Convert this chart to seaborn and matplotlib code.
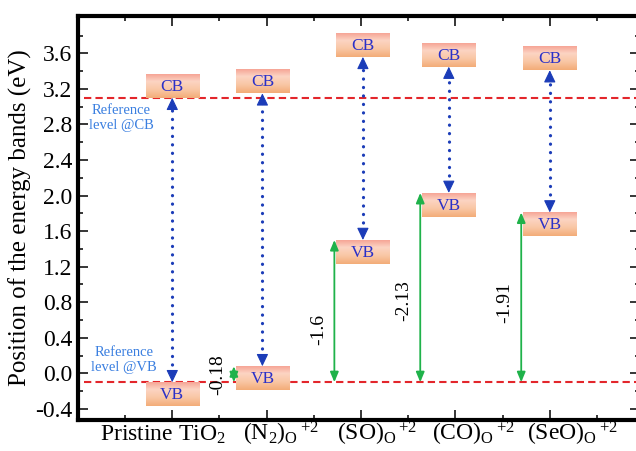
import numpy as np
import pandas as pd
import matplotlib
matplotlib.use("Agg")
import matplotlib.pyplot as plt
from matplotlib.colors import LinearSegmentedColormap
from matplotlib.ticker import FixedLocator
import seaborn as sns

# ---- data -------------------------------------------------------------
systems = ["Pristine TiO$_2$",
           "(N$_2$)$_\\mathrm{O}\\,{}^{+2}$",
           "(SO)$_\\mathrm{O}\\,{}^{+2}$",
           "(CO)$_\\mathrm{O}\\,{}^{+2}$",
           "(SeO)$_\\mathrm{O}\\,{}^{+2}$"]
cb_level = [3.10, 3.15, 3.56, 3.45, 3.41]          # conduction band edge (eV)
vb_shift = [0.0, -0.18, -1.6, -2.13, -1.91]         # VB shift w.r.t. pristine (eV)
ref_vb = -0.10                                      # pristine VB reference level
ref_cb = 3.10                                       # pristine CB reference level
y_ticks = [-0.4, 0.0, 0.4, 0.8, 1.2, 1.6, 2.0, 2.4, 2.8, 3.2, 3.6]

vb_level = [ref_vb - s for s in vb_shift]
df = pd.DataFrame({"system": systems, "pos": np.arange(1, len(systems) + 1),
                   "cb": cb_level, "vb": vb_level, "shift": vb_shift})

# ---- style ------------------------------------------------------------
sns.set_theme(style="ticks")
plt.rcParams["font.family"] = ["Liberation Serif", "DejaVu Serif"]
plt.rcParams["mathtext.fontset"] = "custom"
plt.rcParams["mathtext.rm"] = "Liberation Serif"
plt.rcParams["mathtext.it"] = "Liberation Serif:italic"
plt.rcParams["mathtext.bf"] = "Liberation Serif:bold"
plt.rcParams["axes.unicode_minus"] = False

fig = plt.figure(figsize=(6.36, 4.51), dpi=100)
ax = fig.add_axes([77.9 / 636, 31 / 451, 562 / 636, 404 / 451])
xmax = 5.955
ax.set_xlim(0, xmax)
ax.set_ylim(-0.525, 4.02)

# ---- reference levels -------------------------------------------------
red = "#e3262b"
for lvl in (ref_cb, ref_vb):
    sns.lineplot(x=[0.06, xmax], y=[lvl, lvl], ax=ax, color=red, lw=1.5,
                 dashes=False, zorder=2, legend=False)
for ln in ax.lines:
    ln.set_linestyle((0, (3.5, 2.0)))

# ---- band boxes -------------------------------------------------------
box_cmap = LinearSegmentedColormap.from_list(
    "band", [(0.0, "#f6a596"), (0.3, "#fcd4c3"), (0.65, "#f9c7a5"), (1.0, "#f3ac78")])
grad = np.linspace(0, 1, 64).reshape(-1, 1)
box_w, box_h = 0.565, 0.27
nudge = [0.0, -0.045, 0.02, -0.07, 0.0]
band_txt = "#2a30c8"
blue = "#1b3cb8"
green = "#1fb24a"
head = 0.115          # arrow head length in eV units

def head_at(x, y_tip, direction):
    """Solid triangular head whose tip sits at (x, y_tip)."""
    ax.annotate("", xy=(x, y_tip), xytext=(x, y_tip - direction * head),
                arrowprops=dict(arrowstyle="-|>,head_length=0.75,head_width=0.36",
                                color=blue, lw=0.8, shrinkA=0, shrinkB=0,
                                mutation_scale=10),
                zorder=5)

for i, row in df.iterrows():
    xc = row["pos"] + nudge[i]
    # CB box sits on top of the CB edge, VB box hangs below the VB edge
    for y0, y1, lab in ((row["cb"], row["cb"] + box_h, "CB"),
                        (row["vb"] - box_h, row["vb"], "VB")):
        ax.imshow(grad, extent=[xc - box_w / 2, xc + box_w / 2, y0, y1],
                  origin="upper", aspect="auto", cmap=box_cmap, zorder=3,
                  interpolation="bilinear")
        ax.text(xc, (y0 + y1) / 2 - 0.01, lab, ha="center", va="center",
                color=band_txt, fontsize=12.5, zorder=4)
    # band gap: dotted shaft with solid heads at both edges
    ax.plot([xc, xc], [row["vb"] + head * 0.9, row["cb"] - head * 0.9],
            color=blue, lw=2.3, linestyle=(0, (0.05, 2.6)),
            dash_capstyle="round", solid_capstyle="round", zorder=5)
    head_at(xc, row["cb"], +1)
    head_at(xc, row["vb"], -1)

# ---- VB shift arrows --------------------------------------------------
shift_label_y = [None, -0.02, 0.49, 0.82, 0.80]
for i, row in df.iterrows():
    if row["shift"] == 0:
        continue
    xa = row["pos"] + nudge[i] - box_w / 2 - 0.02
    ax.annotate("", xy=(xa, row["vb"]), xytext=(xa, ref_vb),
                arrowprops=dict(arrowstyle="<|-|>,head_length=0.6,head_width=0.25",
                                color=green, lw=1.3, shrinkA=0, shrinkB=0,
                                mutation_scale=10),
                zorder=6)
    ax.text(xa - 0.17, shift_label_y[i], f"{row['shift']:g}", rotation=90,
            ha="center", va="center", fontsize=14, color="black", zorder=6)

# ---- reference annotations --------------------------------------------
ref_blue = "#3a7fe0"
ax.text(0.457, 2.87, "Reference\nlevel @CB", ha="center", va="center",
        multialignment="center", color=ref_blue, fontsize=10.5, linespacing=1.15)
ax.text(0.49, 0.15, "Reference\nlevel @VB", ha="center", va="center",
        multialignment="center", color=ref_blue, fontsize=10.5, linespacing=1.15)

# ---- axes -------------------------------------------------------------
ax.set_xticks(df["pos"])
ax.set_xticklabels([])
ax.xaxis.set_minor_locator(FixedLocator(np.arange(0.5, xmax, 1.0)))
ax.set_yticks(y_ticks)
ax.set_yticklabels([f"{v:.1f}" for v in y_ticks])
ax.yaxis.set_minor_locator(FixedLocator(np.arange(-0.2, 4.0, 0.4)))

# category names, left-anchored under each column
label_dx = [-0.77, -0.25, -0.255, -0.25, -0.245]
xtr = ax.get_xaxis_transform()
for pos, name, dx in zip(df["pos"], df["system"], label_dx):
    ax.text(pos + dx, -0.052, name, transform=xtr, ha="left", va="baseline",
            fontsize=17, color="black", clip_on=False)

ax.tick_params(which="both", direction="in", top=True, right=True,
               colors="black", labelsize=17, width=1.1)
ax.tick_params(which="major", length=7)
ax.tick_params(which="minor", length=3.5)
ax.tick_params(axis="y", pad=4)

for side in ("left", "bottom", "top"):
    ax.spines[side].set_linewidth(3.0)
    ax.spines[side].set_color("black")
ax.spines["right"].set_visible(False)

ax.set_ylabel("Position of the energy bands (eV)", fontsize=18, color="black",
              labelpad=2)
ax.set_xlabel("")

fig.savefig("out.png", dpi=100)
